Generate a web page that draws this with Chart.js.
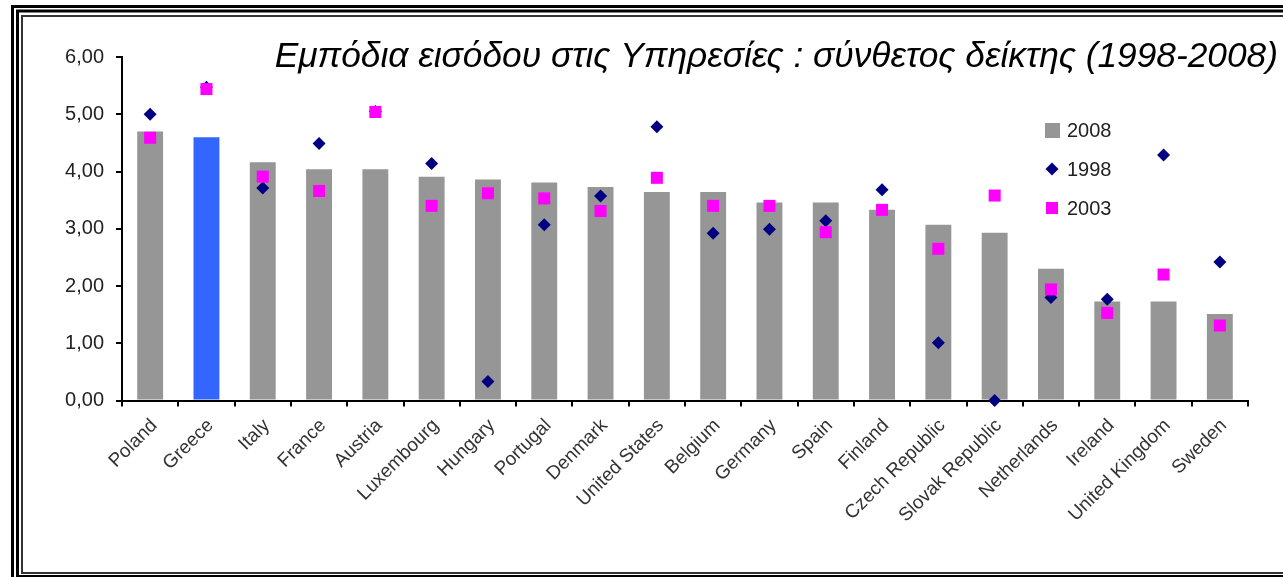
<!DOCTYPE html>
<html>
<head>
<meta charset="utf-8">
<script src="https://cdn.jsdelivr.net/npm/chart.js@4.4.1/dist/chart.umd.min.js"></script>
<style>
  html, body { margin: 0; padding: 0; background: #fff; }
  #wrap { position: relative; width: 1283px; height: 577px; overflow: hidden; }
</style>
</head>
<body>
<div id="wrap"><canvas id="mycanvas" width="1283" height="577"></canvas></div>
<script>
// countries, sorted by the 2008 index
var countries = ['Poland', 'Greece', 'Italy', 'France', 'Austria', 'Luxembourg', 'Hungary',
    'Portugal', 'Denmark', 'United States', 'Belgium', 'Germany', 'Spain', 'Finland',
    'Czech Republic', 'Slovak Republic', 'Netherlands', 'Ireland', 'United Kingdom', 'Sweden'];
var val2008 = [4.70, 4.60, 4.16, 4.04, 4.04, 3.91, 3.86, 3.81, 3.73, 3.64,
    3.64, 3.46, 3.46, 3.33, 3.07, 2.93, 2.30, 1.73, 1.73, 1.51];
var val1998 = [5.00, 5.47, 3.71, 4.49, 5.05, 4.14, 0.33, 3.07, 3.57, 4.78,
    2.92, 2.99, 3.14, 3.68, 1.01, 0.00, 1.80, 1.77, 4.29, 2.42];
var val2003 = [4.59, 5.44, 3.91, 3.66, 5.04, 3.40, 3.62, 3.53, 3.31, 3.89,
    3.40, 3.40, 2.94, 3.33, 2.65, 3.58, 1.94, 1.53, 2.20, 1.31];
var yTicks = [0, 1, 2, 3, 4, 5, 6];
var titleText = 'Εμπόδια εισόδου στις Υπηρεσίες : σύνθετος δείκτης (1998-2008)';

var FONT = '"Liberation Sans", Arial, sans-serif';

// triple frame round the whole picture
var framePlugin = {
    id: 'frame',
    beforeDraw: function(chart) {
        var ctx = chart.ctx;
        ctx.save();
        ctx.fillStyle = '#fff';
        ctx.fillRect(0, 0, chart.width, chart.height);
        ctx.strokeStyle = '#000';
        ctx.lineWidth = 3;
        ctx.strokeRect(12.5, 6.5, 1300, 600);
        ctx.strokeRect(17.5, 11, 1290, 565.5);
        ctx.lineWidth = 2;
        ctx.strokeStyle = '#333';
        ctx.strokeRect(22, 16, 1280, 557);
        ctx.restore();
    }
};

// title and legend sit inside the plot area
var overlayPlugin = {
    id: 'overlay',
    afterDraw: function(chart) {
        var ctx = chart.ctx;
        ctx.save();
        ctx.fillStyle = '#000';
        ctx.font = 'italic 35.3px ' + FONT;
        ctx.textAlign = 'right';
        ctx.textBaseline = 'alphabetic';
        ctx.fillText(titleText, 1278, 67);

        var rows = [130, 169, 208];
        var mx = 1052;
        ctx.font = '20px ' + FONT;
        ctx.textAlign = 'left';
        ctx.textBaseline = 'middle';
        chart.data.datasets.forEach(function(ds, i) {
            var y = rows[i];
            if (ds.type === 'bar') {
                ctx.fillStyle = '#969696';
                ctx.fillRect(mx - 7, y - 7, 15, 15);
            } else if (ds.pointStyle === 'rectRot') {
                var r = ds.pointRadius;
                ctx.fillStyle = ds.pointBackgroundColor;
                ctx.beginPath();
                ctx.moveTo(mx - r, y);
                ctx.lineTo(mx, y - r);
                ctx.lineTo(mx + r, y);
                ctx.lineTo(mx, y + r);
                ctx.closePath();
                ctx.fill();
            } else {
                ctx.fillStyle = ds.pointBackgroundColor;
                ctx.fillRect(mx - 6, y - 6, 12, 12);
            }
            ctx.fillStyle = '#222';
            ctx.fillText(ds.label, 1067, y + 1);
        });
        ctx.restore();
    }
};

var chartdata = {
    labels: countries,
    datasets: [
        {
            type: 'bar',
            label: '2008',
            data: val2008,
            backgroundColor: countries.map(function(c) { return c === 'Greece' ? '#3366ff' : '#969696'; }),
            categoryPercentage: 1,
            barPercentage: 0.46,
            order: 3
        },
        {
            type: 'line',
            label: '1998',
            data: val1998,
            showLine: false,
            pointStyle: 'rectRot',
            pointRadius: 6.5,
            pointBackgroundColor: '#000080',
            pointBorderWidth: 0,
            pointBorderColor: '#000080',
            clip: false,
            order: 2
        },
        {
            type: 'line',
            label: '2003',
            data: val2003,
            showLine: false,
            pointStyle: 'rect',
            pointRadius: 8.5,
            pointBackgroundColor: '#ff00ff',
            pointBorderWidth: 0,
            pointBorderColor: '#ff00ff',
            clip: false,
            order: 1
        }
    ]
};

var ctx = document.getElementById('mycanvas');

var barGraph = new Chart(ctx, {
    type: 'bar',
    data: chartdata,
    plugins: [framePlugin, overlayPlugin],
    options: {
        responsive: false,
        animation: false,
        events: [],
        layout: { padding: { left: 20, top: 57, right: 35, bottom: 20 } },
        plugins: {
            legend: { display: false },
            title: { display: false },
            tooltip: { enabled: false }
        },
        scales: {
            x: {
                offset: true,
                afterFit: function(s) { s.height = 156.5; },
                grid: { drawOnChartArea: false, drawTicks: true, tickLength: 6, color: '#000', lineWidth: 2 },
                border: { color: '#000', width: 2 },
                ticks: {
                    autoSkip: false,
                    maxRotation: 45,
                    minRotation: 45,
                    padding: 8,
                    labelOffset: 4,
                    color: '#333',
                    font: { family: FONT, size: 19 }
                }
            },
            y: {
                min: 0,
                max: 6,
                afterFit: function(s) { s.width = 102; },
                afterBuildTicks: function(s) { s.ticks = yTicks.map(function(v) { return { value: v }; }); },
                grid: { drawOnChartArea: false, drawTicks: true, tickLength: 6, color: '#000', lineWidth: 2 },
                border: { color: '#000', width: 2 },
                ticks: {
                    padding: 12,
                    color: '#222',
                    font: { family: FONT, size: 20 },
                    callback: function(v) { return v.toFixed(2).replace('.', ','); }
                }
            }
        }
    }
});
</script>
</body>
</html>
